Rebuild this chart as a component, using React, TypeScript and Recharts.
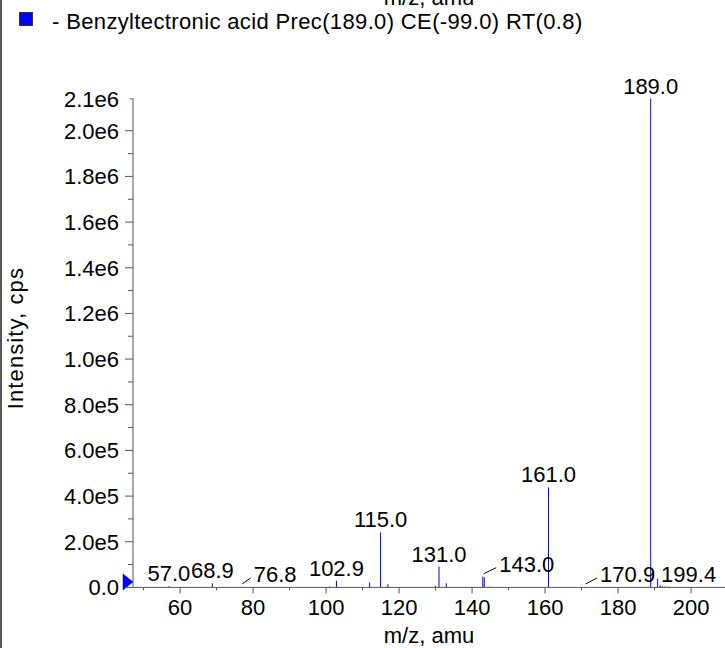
import React from "react";
import {
  ComposedChart,
  Bar,
  XAxis,
  YAxis,
  LabelList,
  Legend,
  ReferenceDot,
} from "recharts";

// peak list (m/z, cps)
const mz = [
  57.0, 68.9, 76.8, 101.0, 102.9, 112.0, 115.0, 117.0, 130.0, 131.0, 133.0,
  143.0, 143.4, 145.0, 161.0, 163.0, 170.9, 189.0, 190.9, 191.6, 192.2, 193.0,
  194.0, 199.4,
];
const intensity = [
  5000, 18000, 2000, 4000, 29000, 22000, 241000, 14000, 6000, 91000, 18000,
  47000, 44000, 3000, 438000, 2000, 2000, 2140000, 38000, 10000, 5000, 4000,
  3000, 2000,
];
const labeledMz = [57.0, 68.9, 76.8, 102.9, 115.0, 131.0, 143.0, 161.0, 170.9, 189.0, 199.4];

const xTicks = [50, 60, 70, 80, 90, 100, 110, 120, 130, 140, 150, 160, 170, 180, 190, 200];
const yTicks = [
  0, 100000, 200000, 300000, 400000, 500000, 600000, 700000, 800000, 900000,
  1000000, 1100000, 1200000, 1300000, 1400000, 1500000, 1600000, 1700000,
  1800000, 1900000, 2000000, 2140000,
];
const xDomain = [47.1, 209.3];
const yDomain = [0, 2140000];
const precursorMark = 24000;

const legendText = "- Benzyltectronic acid Prec(189.0) CE(-99.0) RT(0.8)";
const xTitle = "m/z, amu";
const yTitle = "Intensity, cps";

// labels that sit beside their peak with a leader line (px to the right)
const labelShift: Record<string, number> = { "76.8": 34, "143.0": 44, "170.9": 43 };

const FONT = "'Liberation Sans', Arial, Helvetica, sans-serif";
const FS = 22;
const AXIS = "#555";
const BLUE = "#0000ff";

const data = mz.map((m, i) => ({
  mz: m,
  intensity: intensity[i],
  label: labeledMz.includes(m) ? m.toFixed(1) : "",
}));

function fmtY(v: number) {
  if (v === 0) return "0.0";
  const e = Math.floor(Math.log10(v));
  return `${(v / Math.pow(10, e)).toFixed(1)}e${e}`;
}

// rough Arial advance widths, used to place leader lines
function textWidth(s: string) {
  let w = 0;
  for (const ch of s) w += ch === "." ? 0.278 : 0.556;
  return w * FS;
}

const Stick = (p: any) => {
  const cx = p.x + p.width / 2;
  return <line x1={cx} x2={cx} y1={p.y} y2={p.y + p.height} stroke={BLUE} strokeWidth={1} />;
};

const PeakLabel = (p: any) => {
  if (!p.value) return null;
  const cx = p.x + p.width / 2;
  const top = p.y;
  const shift = labelShift[p.value] || 0;
  const tx = cx + shift;
  const ty = top - 5;
  return (
    <g>
      {shift !== 0 && (
        <line
          x1={cx + 1}
          y1={top - 3}
          x2={tx - textWidth(p.value) / 2 - 3}
          y2={ty - 4}
          stroke="#000"
          strokeWidth={1}
        />
      )}
      <text x={tx} y={ty} textAnchor="middle" fontSize={FS} fontFamily={FONT} fill="#000">
        {p.value}
      </text>
    </g>
  );
};

const XTick = (p: any) => {
  const v = p.payload.value;
  const major = v % 20 === 0;
  return (
    <g>
      <line x1={p.x} x2={p.x} y1={p.y} y2={p.y + (major ? 6 : 3)} stroke={AXIS} />
      {major && (
        <text x={p.x} y={p.y + 28} textAnchor="middle" fontSize={FS} fontFamily={FONT} fill="#000">
          {v}
        </text>
      )}
    </g>
  );
};

const YTick = (p: any) => {
  const v = p.payload.value;
  const isTop = v === yDomain[1];
  const major = v % 200000 === 0 || isTop;
  const len = isTop ? 3 : major ? 8 : 5;
  return (
    <g>
      <line x1={p.x - len} x2={p.x} y1={p.y} y2={p.y} stroke={AXIS} />
      {major && (
        <text
          x={p.x - 14}
          y={p.y}
          dy="0.36em"
          textAnchor="end"
          fontSize={FS}
          fontFamily={FONT}
          fill="#000"
        >
          {fmtY(v)}
        </text>
      )}
    </g>
  );
};

const XTitle = (p: any) => {
  const vb = p.viewBox;
  const cx = vb.x + vb.width / 2;
  return (
    <g>
      <text x={cx} y={vb.y + vb.height - 5} textAnchor="middle" fontSize={FS} fontFamily={FONT} fill="#000">
        {xTitle}
      </text>
      {/* the same title peeks in at the very top of the page */}
      <text x={cx} y={5} textAnchor="middle" fontSize={FS} fontFamily={FONT} fill="#000">
        {xTitle}
      </text>
    </g>
  );
};

const YTitle = (p: any) => {
  const vb = p.viewBox;
  const x = vb.x + 23;
  const y = vb.y + vb.height / 2 - 5;
  return (
    <text
      x={x}
      y={y}
      transform={`rotate(-90, ${x}, ${y})`}
      textAnchor="middle"
      fontSize={FS}
      fontFamily={FONT}
      letterSpacing={1.1}
      fill="#000"
    >
      {yTitle}
    </text>
  );
};

const LegendBox = () => (
  <svg width={725} height={36} style={{ display: "block" }}>
    <rect x={19.5} y={12.5} width={13} height={13} fill={BLUE} stroke="#333" />
    <text x={52} y={29} fontSize={FS} fontFamily={FONT} letterSpacing={0.36} fill="#000">
      {legendText}
    </text>
  </svg>
);

const Triangle = (p: any) => (
  <polygon
    points={`${p.cx - 10},${p.cy - 8} ${p.cx - 10},${p.cy + 8} ${p.cx},${p.cy}`}
    fill={BLUE}
    stroke="#0000aa"
    strokeWidth={0.5}
  />
);

export default function App() {
  return (
    <div
      style={{
        position: "absolute",
        left: 0,
        top: 0,
        width: 725,
        height: 648,
        background: "#fff",
        overflow: "hidden",
      }}
    >
      <div style={{ position: "absolute", left: 0, top: 0, width: 2, height: 648, background: AXIS }} />
      <ComposedChart
        width={725}
        height={648}
        data={data}
        margin={{ top: 62.8, right: 0, bottom: 0, left: 0 }}
      >
        <Legend
          verticalAlign="top"
          align="left"
          content={LegendBox}
          wrapperStyle={{ position: "absolute", top: 0, left: 0, width: 725, height: 36 }}
        />
        <XAxis
          dataKey="mz"
          type="number"
          domain={xDomain}
          ticks={xTicks}
          interval={0}
          allowDataOverflow
          height={60.6}
          tickSize={0}
          tickMargin={0}
          tickLine={false}
          tick={XTick}
          axisLine={{ stroke: AXIS }}
          label={XTitle}
        />
        <YAxis
          type="number"
          domain={yDomain}
          ticks={yTicks}
          interval={0}
          width={133}
          tickSize={0}
          tickMargin={0}
          tickLine={false}
          tick={YTick}
          axisLine={{ stroke: AXIS }}
          label={YTitle}
        />
        <Bar dataKey="intensity" barSize={1} shape={Stick} isAnimationActive={false}>
          <LabelList dataKey="label" content={PeakLabel} />
        </Bar>
        <ReferenceDot
          x={xDomain[0]}
          y={precursorMark}
          ifOverflow="visible"
          shape={Triangle}
        />
      </ComposedChart>
    </div>
  );
}
